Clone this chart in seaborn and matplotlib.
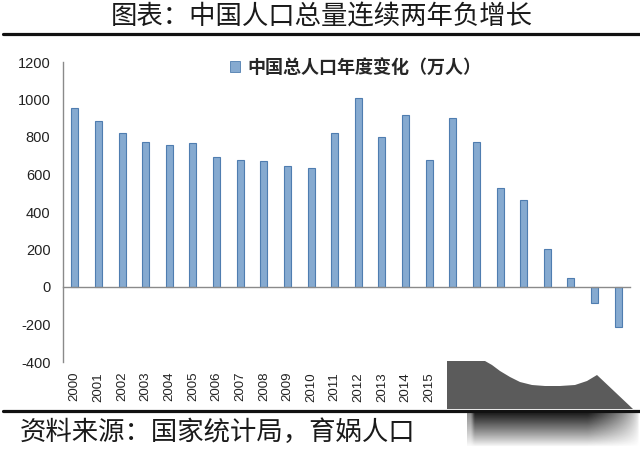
import numpy as np
import pandas as pd
import matplotlib
matplotlib.use("Agg")
import matplotlib.pyplot as plt
import matplotlib.transforms as mtransforms
from matplotlib.patches import Polygon, Patch
from matplotlib.lines import Line2D
import seaborn as sns

# ---- data ----
years = [str(y) for y in range(2000, 2024)]
changes = [956, 884, 823, 772, 757, 766, 692, 677, 674, 645, 637, 823,
           1006, 802, 917, 677, 903, 773, 526, 464, 201, 46, -84, -212]
yticks = [-400, -200, 0, 200, 400, 600, 800, 1000, 1200]
visible_labels = years[:16]
title = "图表：中国人口总量连续两年负增长"
legend_label = "中国总人口年度变化（万人）"
source = "资料来源：国家统计局，育娲人口"

sns.set_style("white")
plt.rcParams["font.family"] = ["Noto Sans CJK SC", "DejaVu Sans"]

W, H = 640, 451
fig = plt.figure(figsize=(6.4, 4.51), dpi=100)
fig.patch.set_facecolor("white")

def fx(px):
    return px / W

def fy(py):
    return 1 - py / H

ax = fig.add_axes([fx(63), fy(362), fx(630) - fx(63), fy(62) - fy(362)])

df = pd.DataFrame({"year": years, "change": changes})
sns.barplot(data=df, x="year", y="change", ax=ax, width=0.3,
            color="#86aad0", edgecolor="#4f7db0", linewidth=0.8,
            saturation=1)

ax.set_xlim(-0.5, len(years) - 0.5)
ax.set_ylim(-400, 1200)
ax.set_yticks(yticks)
ax.set_yticklabels([str(v) for v in yticks], fontsize=10.5, color="#222222",
                   family=["Liberation Sans", "DejaVu Sans"])
ax.set_xlabel("")
ax.set_ylabel("")

for s in ["top", "right"]:
    ax.spines[s].set_visible(False)
ax.spines["left"].set_color("#8a8a8a")
ax.spines["left"].set_linewidth(1.0)
ax.spines["bottom"].set_position(("data", 0))
ax.spines["bottom"].set_color("#8a8a8a")
ax.spines["bottom"].set_linewidth(1.0)
ax.tick_params(axis="y", direction="out", length=5, color="#8a8a8a", pad=4)
ax.set_xticks(np.arange(-0.5, len(years), 1))
ax.set_xticklabels([])
ax.tick_params(axis="x", direction="out", length=4, color="#8a8a8a")

trans = mtransforms.blended_transform_factory(ax.transData, ax.transAxes)
for i, y in enumerate(years):
    if y in visible_labels:
        ax.text(i, -0.033, y, transform=trans, rotation=90, ha="center",
                va="top", fontsize=9.5, color="#222222",
                family=["Liberation Sans", "DejaVu Sans"])

# legend
handle = Patch(facecolor="#86aad0", edgecolor="#4f7db0", linewidth=0.6)
leg = fig.legend([handle], [legend_label], loc="center left",
                 bbox_to_anchor=(fx(214), fy(67)), frameon=False,
                 handlelength=0.55, handleheight=0.55, handletextpad=0.4,
                 prop={"family": ["Noto Sans CJK SC", "DejaVu Sans"],
                       "weight": "bold", "size": 13})

# title and rules
fig.text(fx(322), fy(17), title, ha="center", va="center", fontsize=19,
         color="#1a1a1a", weight="light",
         family=["Noto Sans CJK SC", "DejaVu Sans"])
fig.add_artist(Line2D([fx(3), fx(640)], [fy(34), fy(34)], color="#111111",
                      linewidth=2.3, transform=fig.transFigure))
fig.add_artist(Line2D([fx(3), fx(640)], [fy(411), fy(411)], color="#111111",
                      linewidth=2.3, transform=fig.transFigure))

fig.text(fx(20), fy(432), source, ha="left", va="center", fontsize=19,
         style="italic", color="#1a1a1a", weight="light",
         family=["Noto Sans CJK SC", "DejaVu Sans"])

# grey overlay shape in the lower right corner
pts = [(447, 361), (485, 361), (492, 365), (500, 371), (510, 377),
       (520, 382), (532, 385), (545, 386), (560, 386), (575, 385),
       (587, 381), (597, 375), (633, 409), (447, 409)]
poly = Polygon([(fx(x), fy(y)) for x, y in pts], closed=True,
               transform=fig.transFigure, facecolor="#5b5b5b",
               edgecolor="none", zorder=5)
fig.add_artist(poly)

gax = fig.add_axes([fx(467), fy(447), fx(640) - fx(467), fy(413) - fy(447)],
                   zorder=5)
gy = np.linspace(0, 1, 40)[:, None]
gx = np.linspace(0, 1, 120)[None, :]
alpha = (1 - gy) ** 0.9 * np.clip((1 - gx) / 0.3, 0, 1) ** 0.6
alpha = alpha * np.clip(gx / 0.04, 0.5, 1)
img = np.zeros((40, 120, 4))
img[..., :3] = 0.12
img[..., 3] = np.clip(alpha, 0, 1)
gax.imshow(img, aspect="auto", interpolation="bilinear")
gax.axis("off")

fig.savefig("out.png", dpi=100, facecolor="white")
